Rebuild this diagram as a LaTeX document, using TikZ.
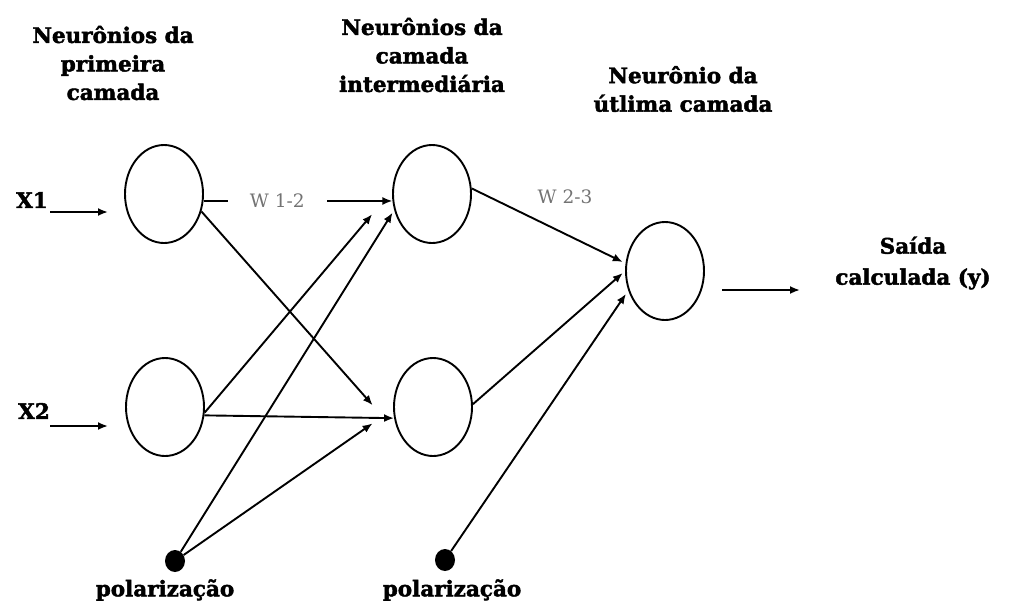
\documentclass[tikz,border=0pt]{standalone}
\usepackage{fontspec}
\setmainfont{DejaVu Serif}[BoldFeatures={FakeBold=2}]
\newfontfamily\wfont{DejaVu Serif}
\usetikzlibrary{shapes.geometric,arrows.meta}
\begin{document}
\begin{tikzpicture}[x=1pt,y=-1pt,
  neuron/.style={ellipse,draw,line width=1.9pt,minimum width=78pt,minimum height=98pt,inner sep=0pt},
  bias/.style={ellipse,fill=black,minimum width=20pt,minimum height=22pt,inner sep=0pt},
  conn/.style={line width=1.9pt,-{Latex[length=10pt,width=8pt]}},
  head/.style={font=\fontsize{21.5}{28.5}\selectfont\bfseries,align=center,inner sep=0pt},
  wlabel/.style={font=\wfont\fontsize{18.5}{20}\selectfont,text=black!55}]
\useasboundingbox (0,0) rectangle (1010,603);

% headings
\node[head] (h1) at (113,63) {Neurônios da\\primeira\\camada};
\node[head] (h2) at (422,55) {Neurônios da\\camada\\intermediária};
\node[head] (h3) at (683,89) {Neurônio da\\útlima camada};
\node[head,font=\fontsize{21.5}{31}\selectfont\bfseries] (saida) at (913,263) {Saída\\calculada (y)};

% neurons
\node[neuron] (n11) at (164,194) {};
\node[neuron] (n12) at (165,407) {};
\node[neuron] (n21) at (432,194) {};
\node[neuron] (n22) at (433,407) {};
\node[neuron] (out) at (665,271) {};

% bias
\node[bias] (b1) at (175,561) {};
\node[bias] (b2) at (445,560) {};
\node[head] (p1) at (165,590) {polarização};
\node[head] (p2) at (452,590) {polarização};

% inputs
\node[head] (x1) at (32,200) {X1};
\node[head] (x2) at (34,411) {X2};
\coordinate (x1s) at (50,212);
\coordinate (x1e) at (108,212);
\coordinate (x2s) at (50,426);
\coordinate (x2e) at (108,426);
\draw[conn] (x1s) -- (x1e);
\draw[conn] (x2s) -- (x2e);

% layer 1 -> layer 2
\draw[conn] (n11.-10) -- node[pos=0.39,fill=white,inner xsep=22pt,inner ysep=2pt,wlabel] (w12) {W 1-2} (n21.190);
\draw[conn,shorten >=44pt] (n11.-25) -- (n22.225);
\draw[conn,shorten >=31pt] (n12.-8) -- (n21.175);
\draw[conn] (n12.-12) -- (n22.196);
\draw[conn,shorten >=3pt] (b1) -- (n21.203);
\draw[conn,shorten >=25pt] (b1) -- (n22.183);

% layer 2 -> output
\draw[conn,shorten >=3pt] (n21.8) -- (out.169);
\node[wlabel] (w23) at (565,197) {W 2-3};
\draw[conn,shorten >=3pt] (n22.4) -- (out.180);
\draw[conn,shorten >=4pt] (b2) -- (out.208);

% output
\coordinate (os) at (722,290);
\coordinate (oe) at (800,290);
\draw[conn] (os) -- (oe);
\end{tikzpicture}
\end{document}
